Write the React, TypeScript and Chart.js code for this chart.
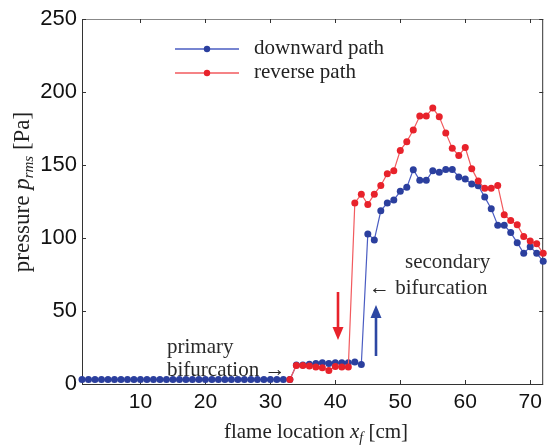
import React, { useEffect, useRef } from 'react';
import { Chart, registerables } from 'chart.js';

Chart.register(...registerables);

// ---- data ----
const downwardX = [
  1, 2, 3, 4, 5, 6, 7, 8, 9, 10, 11, 12, 13, 14, 15, 16, 17, 18, 19, 20, 21, 22, 23, 24,
  25, 26, 27, 28, 29, 30, 31, 32, 33, 34, 35, 36, 37, 38, 39, 40, 41, 42, 43, 44, 45, 46,
  47, 48, 49, 50, 51, 52, 53, 54, 55, 56, 57, 58, 59, 60, 61, 62, 63, 64, 65, 66, 67, 68,
  69, 70, 71, 72,
];
const downwardY = [
  3, 3, 3, 3, 3, 3, 3, 3, 3, 3, 3, 3, 3, 3, 3, 3, 3, 3, 3, 3, 3, 3, 3, 3,
  3, 3, 3, 3, 3, 3, 3, 3, 3, 13, 13, 13.5, 14, 14.5, 14, 14.5, 14.5, 14.5, 15, 13.4, 102.8, 98.7,
  118.6, 124, 126, 132, 134.7, 146.8, 139.5, 139.5, 146, 145, 147, 147, 141.8, 140.4, 137, 135.8, 128, 120, 108.8, 108.8, 103.7, 96.8,
  89.5, 94, 89.5, 84,
];
const reverseX = [
  33, 34, 35, 36, 37, 38, 39, 40, 41, 42, 43, 44, 45, 46, 47, 48, 49, 50, 51, 52,
  53, 54, 55, 56, 57, 58, 59, 60, 61, 62, 63, 64, 65, 66, 67, 68, 69, 70, 71, 72,
];
const reverseY = [
  3, 12.7, 12.7, 12.3, 11.6, 11.2, 9.3, 12, 11.6, 11.6, 124, 130, 123, 130, 136, 144, 146, 160, 166, 174,
  183.5, 183.5, 189, 183, 172, 161.5, 156.5, 162, 147.5, 139, 134, 134, 136, 116, 112, 109, 101, 98, 96, 89.5,
];
const xTicks = [10, 20, 30, 40, 50, 60, 70];
const yTicks = [0, 50, 100, 150, 200, 250];
const seriesNames = ['downward path', 'reverse path'];

const BLUE_PT = '#2b3f9e';
const BLUE_LN = '#4a5cc2';
const RED_PT = '#e8222b';
const RED_LN = '#f25a5e';
const SERIF = '"Liberation Serif", "Times New Roman", serif';
const SANS = '"Liberation Sans", Arial, sans-serif';

type Part = { t: string; it?: boolean; size: number; dy?: number };

function richWidth(ctx: CanvasRenderingContext2D, parts: Part[]) {
  let w = 0;
  for (const p of parts) {
    ctx.font = `${p.it ? 'italic ' : ''}${p.size}px ${SERIF}`;
    w += ctx.measureText(p.t).width;
  }
  return w;
}

function drawRich(ctx: CanvasRenderingContext2D, parts: Part[], x: number, y: number, align: 'left' | 'center') {
  const w = richWidth(ctx, parts);
  let cx = align === 'center' ? x - w / 2 : x;
  ctx.textAlign = 'left';
  ctx.textBaseline = 'alphabetic';
  for (const p of parts) {
    ctx.font = `${p.it ? 'italic ' : ''}${p.size}px ${SERIF}`;
    ctx.fillText(p.t, cx, y + (p.dy || 0));
    cx += ctx.measureText(p.t).width;
  }
}

function arrow(ctx: CanvasRenderingContext2D, x: number, yFrom: number, yTo: number, color: string) {
  const dir = yTo > yFrom ? 1 : -1;
  const head = 13;
  ctx.save();
  ctx.strokeStyle = color;
  ctx.fillStyle = color;
  ctx.lineWidth = 2.6;
  ctx.beginPath();
  ctx.moveTo(x, yFrom);
  ctx.lineTo(x, yTo - dir * head + dir * 2);
  ctx.stroke();
  ctx.beginPath();
  ctx.moveTo(x, yTo);
  ctx.lineTo(x - 5.5, yTo - dir * head);
  ctx.lineTo(x + 5.5, yTo - dir * head);
  ctx.closePath();
  ctx.fill();
  ctx.restore();
}

const decorPlugin = {
  id: 'decor',
  beforeDatasetsDraw(chart: any) {
    const { ctx, chartArea: a, scales } = chart;
    ctx.save();
    ctx.lineWidth = 1;
    // frame
    ctx.strokeStyle = '#888';
    ctx.beginPath();
    ctx.moveTo(a.left, a.top + 0.5);
    ctx.lineTo(a.right, a.top + 0.5);
    ctx.stroke();
    ctx.strokeStyle = '#333';
    ctx.beginPath();
    ctx.moveTo(a.left + 0.5, a.top);
    ctx.lineTo(a.left + 0.5, a.bottom + 0.5);
    ctx.lineTo(a.right - 0.5, a.bottom + 0.5);
    ctx.lineTo(a.right - 0.5, a.top);
    ctx.stroke();
    // inward ticks
    const tl = 4;
    for (const v of xTicks) {
      const px = Math.round(scales.x.getPixelForValue(v)) + 0.5;
      ctx.beginPath();
      ctx.moveTo(px, a.bottom);
      ctx.lineTo(px, a.bottom - tl);
      ctx.moveTo(px, a.top);
      ctx.lineTo(px, a.top + tl);
      ctx.stroke();
    }
    for (const v of yTicks) {
      const py = Math.round(scales.y.getPixelForValue(v)) + 0.5;
      ctx.beginPath();
      ctx.moveTo(a.left, py);
      ctx.lineTo(a.left + tl, py);
      ctx.moveTo(a.right, py);
      ctx.lineTo(a.right - tl, py);
      ctx.stroke();
    }
    ctx.restore();
  },
  afterDraw(chart: any) {
    const { ctx } = chart;
    ctx.save();
    ctx.fillStyle = '#222';
    // axis titles
    drawRich(
      ctx,
      [
        { t: 'flame location ', size: 21 },
        { t: 'x', it: true, size: 21 },
        { t: 'f', it: true, size: 14, dy: 4 },
        { t: ' [cm]', size: 21 },
      ],
      316,
      438,
      'center'
    );
    ctx.save();
    ctx.translate(29, 192);
    ctx.rotate(-Math.PI / 2);
    drawRich(
      ctx,
      [
        { t: 'pressure ', size: 23 },
        { t: 'p', it: true, size: 23 },
        { t: 'rms', it: true, size: 15, dy: 4 },
        { t: ' [Pa]', size: 23 },
      ],
      0,
      0,
      'center'
    );
    ctx.restore();

    // legend
    const legendRows = [
      { y: 49, ln: BLUE_LN, pt: BLUE_PT, name: seriesNames[0] },
      { y: 73, ln: RED_LN, pt: RED_PT, name: seriesNames[1] },
    ];
    for (const r of legendRows) {
      ctx.strokeStyle = r.ln;
      ctx.lineWidth = 1.3;
      ctx.beginPath();
      ctx.moveTo(175, r.y);
      ctx.lineTo(239, r.y);
      ctx.stroke();
      ctx.fillStyle = r.pt;
      ctx.beginPath();
      ctx.arc(207, r.y, 3.2, 0, Math.PI * 2);
      ctx.fill();
      ctx.fillStyle = '#222';
      ctx.font = `21px ${SERIF}`;
      ctx.textAlign = 'left';
      ctx.textBaseline = 'middle';
      ctx.fillText(r.name, 254, r.y - 1);
    }

    // annotations
    ctx.fillStyle = '#2a2a2a';
    ctx.font = `21px ${SERIF}`;
    ctx.textAlign = 'left';
    ctx.textBaseline = 'alphabetic';
    ctx.fillText('secondary', 405, 268);
    ctx.fillText('\u2190 bifurcation', 369, 294);
    ctx.fillText('primary', 167, 353);
    ctx.fillText('bifurcation \u2192', 167, 376);

    arrow(ctx, 338, 292, 340, RED_PT);
    arrow(ctx, 376, 356, 305, '#2d47a3');
    ctx.restore();
  },
};

export default function App() {
  const ref = useRef<HTMLCanvasElement | null>(null);

  useEffect(() => {
    document.body.style.margin = '0';
    const canvas = ref.current;
    if (!canvas) return;
    const chart = new Chart(canvas, {
      type: 'line',
      data: {
        datasets: [
          {
            label: seriesNames[1],
            data: reverseX.map((x, i) => ({ x, y: reverseY[i] })),
            borderColor: RED_LN,
            backgroundColor: RED_PT,
            pointBackgroundColor: RED_PT,
            pointBorderColor: RED_PT,
            pointBorderWidth: 0,
            pointRadius: 3.5,
            borderWidth: 1.2,
            tension: 0,
            clip: false,
            order: 0,
          } as any,
          {
            label: seriesNames[0],
            data: downwardX.map((x, i) => ({ x, y: downwardY[i] })),
            borderColor: BLUE_LN,
            backgroundColor: BLUE_PT,
            pointBackgroundColor: BLUE_PT,
            pointBorderColor: BLUE_PT,
            pointBorderWidth: 0,
            pointRadius: 3.5,
            borderWidth: 1.2,
            tension: 0,
            clip: false,
            order: 1,
          } as any,
        ],
      },
      options: {
        animation: false,
        responsive: false,
        maintainAspectRatio: false,
        devicePixelRatio: 1,
        layout: { padding: { top: 19, right: 1, left: 0, bottom: 0 } },
        plugins: { legend: { display: false }, tooltip: { enabled: false } },
        scales: {
          x: {
            type: 'linear',
            min: 1,
            max: 72,
            grid: { display: false, drawTicks: false },
            border: { display: false },
            ticks: {
              font: { family: SANS, size: 21 },
              color: '#111',
              padding: 6,
              maxRotation: 0,
              autoSkip: false,
            },
            afterBuildTicks: (s: any) => {
              s.ticks = xTicks.map((v) => ({ value: v }));
            },
            afterFit: (s: any) => {
              s.height = 63;
            },
          },
          y: {
            type: 'linear',
            min: 0,
            max: 250,
            grid: { display: false, drawTicks: false },
            border: { display: false },
            ticks: {
              font: { family: SANS, size: 22 },
              color: '#111',
              padding: 5,
            },
            afterBuildTicks: (s: any) => {
              s.ticks = yTicks.map((v) => ({ value: v }));
            },
            afterFit: (s: any) => {
              s.width = 82;
            },
          },
        },
      },
      plugins: [decorPlugin],
    });
    return () => chart.destroy();
  }, []);

  return <canvas ref={ref} width={548} height={447} style={{ display: 'block' }} />;
}
